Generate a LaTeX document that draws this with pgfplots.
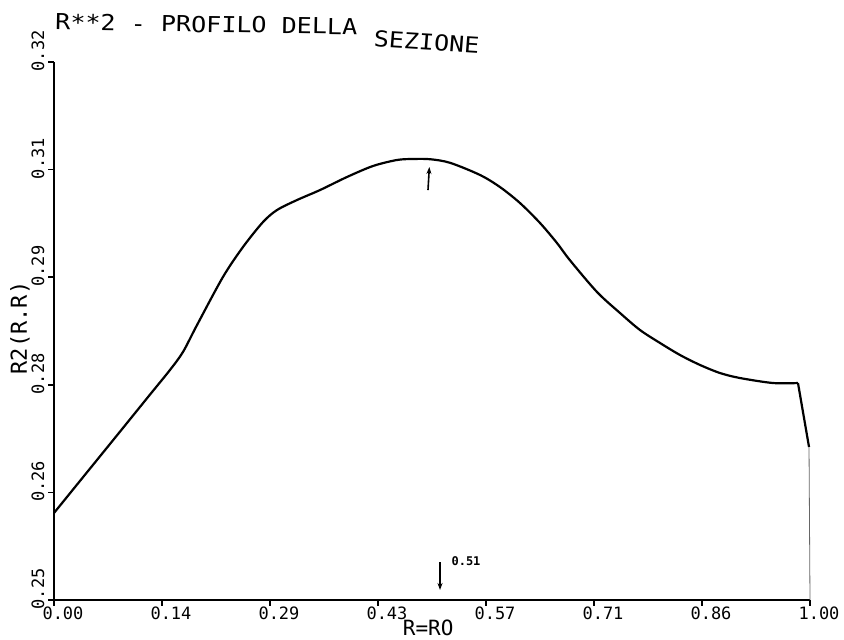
\documentclass[border=0pt]{standalone}
\usepackage{fontspec}
\setmainfont{DejaVu Sans Mono}
\usepackage{pgfplots}
\pgfplotsset{compat=1.18}
\usetikzlibrary{arrows.meta}
\begin{document}
\begin{tikzpicture}
\path[use as bounding box] (0,0) rectangle (844pt,640pt);
\begin{axis}[
  at={(54pt,40pt)}, anchor=south west,
  scale only axis, width=756pt, height=538pt,
  xmin=0, xmax=1, ymin=0.25, ymax=0.32,
  axis lines*=left,
  axis line style={line width=1.8pt},
  tick align=outside, major tick length=6pt,
  tick style={line width=1.5pt, black},
  xtick={0,0.142857,0.285714,0.428571,0.571429,0.714286,0.857143,1},
  xticklabels={0.00,0.14,0.29,0.43,0.57,0.71,0.86,1.00},
  ytick={0.25,0.264,0.278,0.292,0.306,0.32},
  yticklabels={0.25,0.26,0.28,0.29,0.31,0.32},
  xticklabel style={font=\fontsize{17}{17}\selectfont, xshift=9pt, yshift=3pt},
  yticklabel style={font=\fontsize{17}{17}\selectfont, yshift=-13pt, rotate=90, anchor=south west},
  xlabel={R=RO},
  ylabel={R2(R.R)},
  xlabel style={font=\fontsize{21}{21}\selectfont, inner sep=0pt, at={(axis description cs:0.495,-0.0520)}, anchor=center},
  ylabel style={font=\fontsize{22}{22}\selectfont, at={(axis description cs:-0.045,0.5056)}, anchor=center},
  clip=false,
]
\addplot[black, line width=2.2pt, smooth, tension=0.5] coordinates {
(0.0,0.26132) (0.0384,0.26598) (0.0833,0.27142) (0.127,0.27673) (0.1534,0.27993)
(0.1706,0.28227) (0.1892,0.28578) (0.2235,0.29203) (0.25,0.29593) (0.2765,0.29918)
(0.295,0.30074) (0.3214,0.30204) (0.3519,0.30334) (0.3876,0.30504) (0.422,0.30647)
(0.4537,0.30725) (0.4749,0.30738) (0.4974,0.30735) (0.524,0.30688) (0.5635,0.30530)
(0.5899,0.30373) (0.6164,0.30165) (0.6429,0.29905) (0.6653,0.29645) (0.6825,0.29420)
(0.7183,0.29007) (0.7487,0.28734) (0.7751,0.28513) (0.8016,0.28344)
(0.8280,0.28188) (0.8545,0.28058) (0.8810,0.27953) (0.9074,0.27888) (0.9511,0.27823)
(0.9841,0.27823)
};
\addplot[black, line width=2.2pt] coordinates {(0.9841,0.27823) (0.9987,0.26991)};
\addplot[black!60, line width=0.8pt] coordinates {(0.9987,0.26991) (1.0,0.25)};
\draw[black, line width=1.6pt, -{Stealth[length=7pt,width=5pt]}] (axis cs:0.4947,0.30334) -- (axis cs:0.4965,0.30634);
\draw[black, line width=1.6pt, -{Stealth[length=7pt,width=5pt]}] (axis cs:0.5106,0.25494) -- (axis cs:0.5106,0.2513);
\node[font=\bfseries\fontsize{12}{12}\selectfont] at (axis cs:0.545,0.25507) {0.51};
\node[font=\fontsize{22}{22}\selectfont, xscale=1.14, anchor=base west, inner sep=0pt, rotate=-1] at (axis description cs:0.0013,1.0595) {R**2 - PROFILO DELLA};
\node[font=\fontsize{22}{22}\selectfont, xscale=1.14, anchor=base west, inner sep=0pt, rotate=-4] at (axis description cs:0.422,1.0284) {SEZIONE};
\end{axis}
\end{tikzpicture}
\end{document}
